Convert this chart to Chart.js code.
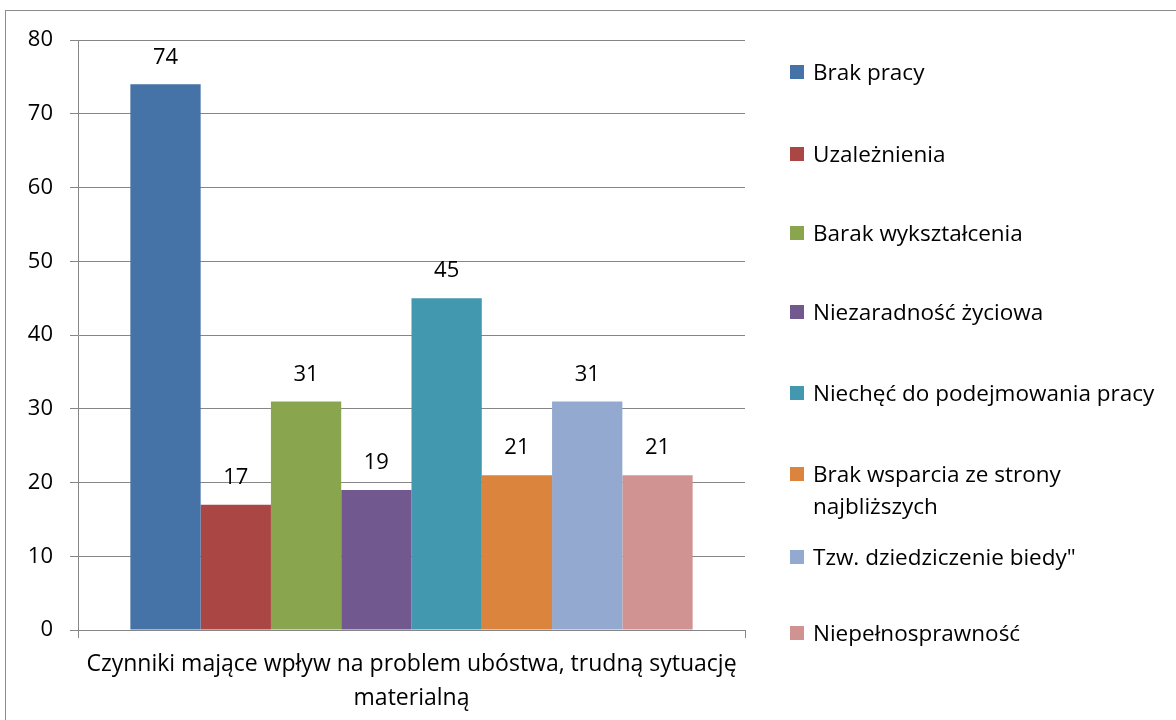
<!DOCTYPE html>
<html>
<head>
<meta charset="utf-8">
<script src="https://cdn.jsdelivr.net/npm/chart.js@4.4.1/dist/chart.umd.min.js"></script>
<style>
  html, body { margin: 0; padding: 0; background: #fff; }
  #wrap { position: relative; width: 1176px; height: 720px; overflow: hidden; font-family: "Open Sans", sans-serif; }
  #frame { position: absolute; left: 5px; top: 10px; width: 1200px; height: 800px; border: 1px solid #8c8c8c; }
  #chart { position: absolute; left: 0; top: 0; }
  .leg { position: absolute; left: 790px; font-size: 22.5px; color: #000; line-height: 32px; }
  .leg .box { position: absolute; left: 0; top: 9px; width: 14px; height: 14px; }
  .leg .txt { margin-left: 23px; white-space: nowrap; }
</style>
</head>
<body>
<div id="wrap">
  <div id="frame"></div>
  <canvas id="chart" width="1176" height="720"></canvas>
  <div id="legend"></div>
</div>
<script>
var category = ["Czynniki mające wpływ na problem ubóstwa, trudną sytuację", "materialną"];
var seriesNames = ["Brak pracy", "Uzależnienia", "Barak wykształcenia", "Niezaradność życiowa",
  "Niechęć do podejmowania pracy", ["Brak wsparcia ze strony", "najbliższych"],
  "Tzw. dziedziczenie biedy\"", "Niepełnosprawność"];
var seriesValues = [74, 17, 31, 19, 45, 21, 31, 21];
var seriesColors = ["#4572A7", "#AA4643", "#89A54E", "#71588F", "#4198AF", "#DB843D", "#93A9CF", "#D19392"];
var yTicks = [0, 10, 20, 30, 40, 50, 60, 70, 80];
var legendTops = [56, 138, 217, 296, 377, 458, 541, 617];

var font = "'Open Sans', sans-serif";

var datasets = seriesNames.map(function (n, i) {
  return {
    label: Array.isArray(n) ? n.join(" ") : n,
    data: [seriesValues[i]],
    backgroundColor: seriesColors[i],
    borderWidth: 0,
    barPercentage: 1,
    categoryPercentage: 0.843
  };
});

var valueLabels = {
  id: "valueLabels",
  afterDatasetsDraw: function (chart) {
    var ctx = chart.ctx;
    ctx.save();
    ctx.font = "22px " + font;
    ctx.fillStyle = "#000";
    ctx.textAlign = "center";
    ctx.textBaseline = "middle";
    chart.data.datasets.forEach(function (ds, i) {
      chart.getDatasetMeta(i).data.forEach(function (bar, j) {
        ctx.fillText(String(ds.data[j]), bar.x, bar.y - 27);
      });
    });
    ctx.restore();
  }
};

new Chart(document.getElementById("chart"), {
  type: "bar",
  data: { labels: [category], datasets: datasets },
  options: {
    responsive: false,
    animation: false,
    layout: { padding: { left: 10, right: 431, top: 40, bottom: 0 } },
    plugins: { legend: { display: false }, tooltip: { enabled: false } },
    scales: {
      x: {
        grid: { drawOnChartArea: false, drawTicks: true, tickLength: 8, color: "#868686" },
        border: { color: "#868686", width: 1 },
        ticks: { color: "#000", font: { family: font, size: 23, lineHeight: 1.5 }, padding: 9, maxRotation: 0 },
        afterFit: function (s) { s.height = 90; }
      },
      y: {
        min: 0, max: 80,
        afterBuildTicks: function (s) { s.ticks = yTicks.map(function (v) { return { value: v }; }); },
        grid: { color: "#868686", tickLength: 8 },
        border: { color: "#868686", width: 1 },
        ticks: { color: "#000", font: { family: font, size: 22 }, padding: 17 },
        afterFit: function (s) { s.width = 68; }
      }
    }
  },
  plugins: [valueLabels]
});

var legend = document.getElementById("legend");
seriesNames.forEach(function (n, i) {
  var item = document.createElement("div");
  item.className = "leg";
  item.style.top = legendTops[i] + "px";
  var box = document.createElement("div");
  box.className = "box";
  box.style.background = seriesColors[i];
  var txt = document.createElement("div");
  txt.className = "txt";
  txt.innerHTML = (Array.isArray(n) ? n : [n]).join("<br>");
  item.appendChild(box);
  item.appendChild(txt);
  legend.appendChild(item);
});
</script>
</body>
</html>
